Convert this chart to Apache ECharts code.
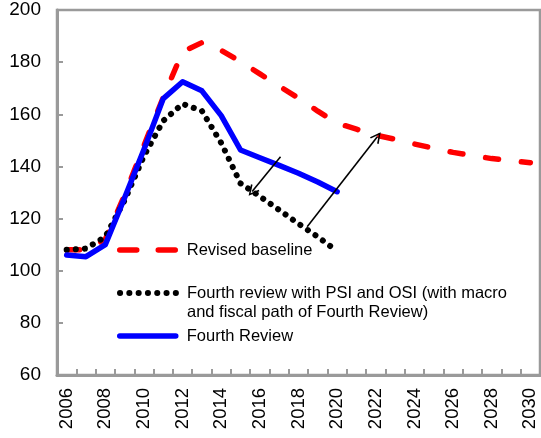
<!DOCTYPE html>
<html>
<head>
<meta charset="utf-8">
<script src="https://cdn.jsdelivr.net/npm/echarts@6/dist/echarts.min.js"></script>
<style>
  html, body { margin: 0; padding: 0; background: #fff; }
  #box { width: 541px; height: 438px; }
</style>
</head>
<body>
<div id="box"></div>
<script>
// 数据
var years = ['2006', '2007', '2008', '2009', '2010', '2011', '2012', '2013', '2014', '2015', '2016', '2017', '2018',
  '2019', '2020', '2021', '2022', '2023', '2024', '2025', '2026', '2027', '2028', '2029', '2030'];
var revisedBaseline = [108, 108, 112, 129, 148, 166.5, 184, 187.5, 184.5, 180.2, 175.5, 170.8, 166.2,
  161.2, 156.6, 154.3, 152, 150.4, 148.6, 147, 145.4, 144.2, 143, 142.2, 141.4];
var withPsiOsi = [108, 108.5, 113, 127, 144, 157.5, 164, 161.3, 149, 133.5, 128.5, 123.3, 118, 113, 107.5];
var fourthReview = [106, 105.4, 110, 128, 146.5, 166, 172.5, 169, 159.5, 146.3, 143.3, 140.4, 137.4, 134, 130.3];
// 箭头 (category index, value)
var arrows = [
  [[11.07, 143.7], [9.6, 130.4]],
  [[12.45, 116.9], [16.08, 151.4]]
];
var yTicks = { min: 60, max: 200, step: 20 };

var names = ['Revised baseline',
  'Fourth review with PSI and OSI (with macro and fiscal path of Fourth Review)',
  'Fourth Review'];
var name2Lines = ['Fourth review with PSI and OSI (with macro', 'and fiscal path of Fourth Review)'];

var font = 'Liberation Sans, Arial, sans-serif';
var axisGray = '#9a9a9a';

// 图例 (一个系列一个)
function legendAt(name, centerY, lineStyle, label) {
  return {
    data: [name],
    left: 117,
    top: centerY - 10,
    padding: 0,
    orient: 'vertical',
    selectedMode: false,
    itemWidth: 56,
    itemHeight: 14,
    itemStyle: { opacity: 0 },
    lineStyle: lineStyle,
    formatter: label ? function () { return label; } : null,
    textStyle: { fontFamily: font, fontSize: 16.5, color: '#000', lineHeight: 20, padding: [0, 0, 0, 6] }
  };
}

var myChart = echarts.init(document.getElementById('box'));
var option = {
  animation: false,
  grid: {
    left: 57, right: 1, top: 10, bottom: 63,
    show: true, borderColor: axisGray, borderWidth: 2.5
  },
  legend: [
    legendAt(names[0], 250, { width: 5.5, type: [17, 21.5], cap: 'round' }),
    legendAt(names[1], 293, { width: 6, type: [0.1, 9.2], cap: 'round' }, name2Lines[0]),
    legendAt(names[2], 336, { width: 5.5, type: 'solid', cap: 'round' })
  ],
  graphic: [
    {
      type: 'text', left: 187, top: 304,
      style: { text: name2Lines[1], font: '16.5px ' + font, fill: '#000' }
    }
  ],
  xAxis: [
    {
      type: 'category',
      data: years,
      boundaryGap: true,
      axisLine: { lineStyle: { color: axisGray, width: 3 } },
      axisTick: { show: true, inside: true, length: 6, interval: 0, lineStyle: { color: axisGray, width: 2 } },
      axisLabel: { interval: 1, rotate: 90, margin: 13, fontFamily: font, fontSize: 18.5, color: '#000' },
      splitLine: { show: false }
    },
    {
      type: 'value', min: -0.5, max: 24.5, show: false
    }
  ],
  yAxis: {
    type: 'value',
    min: yTicks.min, max: yTicks.max, interval: yTicks.step,
    axisLine: { show: true, onZero: false, lineStyle: { color: axisGray, width: 3 } },
    axisTick: { show: true, inside: true, length: 6, lineStyle: { color: axisGray, width: 2 } },
    axisLabel: { margin: 16, fontFamily: font, fontSize: 19, color: '#000' },
    splitLine: { show: false }
  },
  series: [
    {
      name: names[0], type: 'line', data: revisedBaseline, symbol: 'none',
      lineStyle: { color: '#ff0000', width: 5.5, type: [13, 23], cap: 'round', join: 'round' },
      itemStyle: { color: '#ff0000' }
    },
    {
      name: names[1], type: 'line', data: withPsiOsi, symbol: 'none',
      lineStyle: { color: '#000', width: 6, type: [0.1, 9], cap: 'round', join: 'round' },
      itemStyle: { color: '#000' }
    },
    {
      name: names[2], type: 'line', data: fourthReview, symbol: 'none',
      lineStyle: { color: '#0000ff', width: 5.5, join: 'round', cap: 'round' },
      itemStyle: { color: '#0000ff' }
    },
    {
      type: 'lines', coordinateSystem: 'cartesian2d', xAxisIndex: 1, yAxisIndex: 0,
      data: arrows.map(function (a) { return { coords: a }; }),
      symbol: ['none', 'path://M0,10 L5,0 L10,10 L8.6,10.6 L5,3 L1.4,10.6 Z'],
      symbolSize: [11, 11],
      lineStyle: { color: '#000', width: 1.6, opacity: 1 },
      itemStyle: { color: '#000' },
      z: 5
    }
  ]
};
myChart.setOption(option);
</script>
</body>
</html>
